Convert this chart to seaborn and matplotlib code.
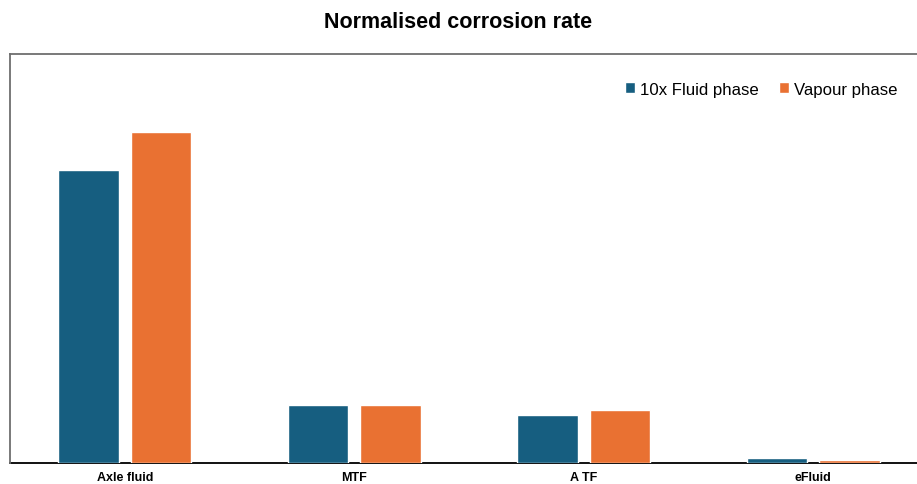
import matplotlib
matplotlib.use("Agg")
import matplotlib.pyplot as plt
import seaborn as sns
import pandas as pd

# Normalised corrosion rate per fluid (relative units)
fluids = ["Axle fluid", "MTF", "A TF", "eFluid"]
fluid_phase = [0.885, 0.175, 0.145, 0.016]
vapour_phase = [1.000, 0.175, 0.160, 0.008]
series_names = ["10x Fluid phase", "Vapour phase"]
colors = ["#165E80", "#E97132"]

df = pd.DataFrame({
    "fluid": fluids * 2,
    "rate": fluid_phase + vapour_phase,
    "phase": [series_names[0]] * len(fluids) + [series_names[1]] * len(fluids),
})

sns.set_style("white")
plt.rcParams["font.family"] = ["Liberation Sans", "DejaVu Sans"]
plt.rcParams["text.color"] = "black"
plt.rcParams["xtick.color"] = "black"

fig = plt.figure(figsize=(9.17, 4.85), dpi=100)
ax = fig.add_axes([10 / 917, 21 / 485, 907 / 917, 409 / 485])

sns.barplot(data=df, x="fluid", y="rate", hue="phase", order=fluids,
            hue_order=series_names, palette=colors, width=0.632, gap=0.17,
            saturation=1, ax=ax, legend=True)

ax.set_xlim(-0.5, 3.452)
ax.set_ylim(0, 1.236)
ax.set_yticks([])
ax.set_xlabel("")
ax.set_ylabel("")
ax.tick_params(axis="x", length=0, pad=6, colors="black")
for lbl in ax.get_xticklabels():
    lbl.set_fontweight("bold")
    lbl.set_fontsize(9)

for side in ["left", "top"]:
    ax.spines[side].set_color("#6e6e6e")
    ax.spines[side].set_linewidth(1.3)
ax.spines["bottom"].set_color("#111111")
ax.spines["bottom"].set_linewidth(1.4)
ax.spines["bottom"].set_zorder(0.5)
ax.spines["right"].set_visible(False)

ax.legend(loc="upper right", bbox_to_anchor=(904 / 917, 1 - 76 / 485),
          bbox_transform=fig.transFigure, ncol=2, frameon=False,
          fontsize=12.1, handlelength=0.6, handleheight=0.6,
          handletextpad=0.3, columnspacing=1.2, borderaxespad=0,
          labelcolor="black")

fig.text(0.5, 1 - 22 / 485, "Normalised corrosion rate", ha="center",
         va="center", fontsize=15.5, fontweight="bold", color="black")

fig.savefig("out.png", dpi=100)
